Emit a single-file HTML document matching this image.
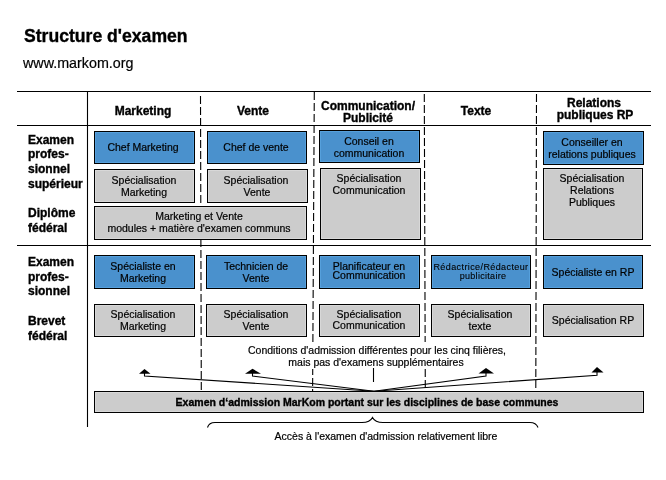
<!DOCTYPE html>
<html><head><meta charset="utf-8">
<style>
html,body{margin:0;padding:0;background:#fff;overflow:hidden;}
body{width:666px;height:480px;position:relative;overflow:hidden;font-family:"Liberation Sans",sans-serif;color:#000;}
.t{position:absolute;white-space:nowrap;will-change:transform;-webkit-text-stroke:0.2px #000;}
.bx{position:absolute;box-sizing:border-box;border:1px solid #000;}
.bl{background:#4a91cd;box-shadow:inset 0 0 0 1px #56a0dc;}
.gr{background:#cccccc;box-shadow:inset 0 0 0 1px #d8d8d8;}
svg{position:absolute;left:0;top:0;}
</style></head><body>
<div class="t" style="top:26px;font-size:17.6px;line-height:20px;font-weight:bold;-webkit-text-stroke:0.35px #000;left:23.5px;">Structure d'examen</div>
<div class="t" style="top:55px;font-size:14.3px;line-height:16px;left:23px;">www.markom.org</div>
<svg width="666" height="480" viewBox="0 0 666 480">
<g stroke="#000" stroke-width="1.1" fill="none">
<line x1="17" y1="91.5" x2="651" y2="91.5"/>
<line x1="17" y1="125.5" x2="651" y2="125.5"/>
<line x1="17" y1="245.5" x2="651" y2="245.5"/>
<line x1="87.5" y1="91" x2="87.5" y2="427"/>
</g>
<g stroke="#000" stroke-width="1.1" fill="none" stroke-dasharray="8 3">
<line x1="200.5" y1="96" x2="201.3" y2="390"/>
<line x1="314.3" y1="92" x2="312.6" y2="391"/>
<line x1="424.3" y1="94" x2="425.3" y2="388"/>
<line x1="536.5" y1="94" x2="535.8" y2="388"/>
</g>
</svg>
<div class="t" style="top:104px;font-size:12px;line-height:14px;font-weight:bold;-webkit-text-stroke:0.35px #000;left:-157.00px;width:600px;text-align:center;">Marketing</div>
<div class="t" style="top:104px;font-size:12px;line-height:14px;font-weight:bold;-webkit-text-stroke:0.35px #000;left:-47.30px;width:600px;text-align:center;">Vente</div>
<div class="t" style="top:104px;font-size:12px;line-height:14px;font-weight:bold;-webkit-text-stroke:0.35px #000;left:176.40px;width:600px;text-align:center;">Texte</div>
<div class="t" style="top:99px;font-size:12px;line-height:14px;font-weight:bold;-webkit-text-stroke:0.35px #000;left:67.50px;width:600px;text-align:center;">Communication/</div>
<div class="t" style="top:111px;font-size:12px;line-height:14px;font-weight:bold;-webkit-text-stroke:0.35px #000;left:68.35px;width:600px;text-align:center;">Publicité</div>
<div class="t" style="top:96px;font-size:12px;line-height:14px;font-weight:bold;-webkit-text-stroke:0.35px #000;left:294.30px;width:600px;text-align:center;">Relations</div>
<div class="t" style="top:108px;font-size:12px;line-height:14px;font-weight:bold;-webkit-text-stroke:0.35px #000;left:295.05px;width:600px;text-align:center;">publiques RP</div>
<div class="t" style="top:133px;font-size:12px;line-height:14px;font-weight:bold;-webkit-text-stroke:0.35px #000;left:28px;">Examen</div>
<div class="t" style="top:147px;font-size:12px;line-height:14px;font-weight:bold;-webkit-text-stroke:0.35px #000;left:28px;">profes-</div>
<div class="t" style="top:162px;font-size:12px;line-height:14px;font-weight:bold;-webkit-text-stroke:0.35px #000;left:28px;">sionnel</div>
<div class="t" style="top:177px;font-size:12px;line-height:14px;font-weight:bold;-webkit-text-stroke:0.35px #000;left:28px;">supérieur</div>
<div class="t" style="top:206px;font-size:12px;line-height:14px;font-weight:bold;-webkit-text-stroke:0.35px #000;left:28px;">Diplôme</div>
<div class="t" style="top:221px;font-size:12px;line-height:14px;font-weight:bold;-webkit-text-stroke:0.35px #000;left:28px;">fédéral</div>
<div class="t" style="top:255px;font-size:12px;line-height:14px;font-weight:bold;-webkit-text-stroke:0.35px #000;left:28px;">Examen</div>
<div class="t" style="top:270px;font-size:12px;line-height:14px;font-weight:bold;-webkit-text-stroke:0.35px #000;left:28px;">profes-</div>
<div class="t" style="top:284px;font-size:12px;line-height:14px;font-weight:bold;-webkit-text-stroke:0.35px #000;left:28px;">sionnel</div>
<div class="t" style="top:314px;font-size:12px;line-height:14px;font-weight:bold;-webkit-text-stroke:0.35px #000;left:28px;">Brevet</div>
<div class="t" style="top:329px;font-size:12px;line-height:14px;font-weight:bold;-webkit-text-stroke:0.35px #000;left:28px;">fédéral</div>
<div class="bx bl" style="left:94px;top:131px;width:101px;height:33px;"></div>
<div class="bx bl" style="left:207px;top:131px;width:100px;height:33px;"></div>
<div class="bx bl" style="left:319px;top:130px;width:101px;height:33px;"></div>
<div class="bx bl" style="left:543px;top:131px;width:101px;height:34px;"></div>
<div class="bx gr" style="left:94px;top:169px;width:101px;height:34px;"></div>
<div class="bx gr" style="left:207px;top:169px;width:101px;height:34px;"></div>
<div class="bx gr" style="left:320px;top:168px;width:101px;height:72px;"></div>
<div class="bx gr" style="left:543px;top:168px;width:100px;height:72px;"></div>
<div class="bx gr" style="left:94px;top:206px;width:213px;height:34px;"></div>
<div class="bx bl" style="left:94px;top:255px;width:101px;height:34px;"></div>
<div class="bx bl" style="left:206px;top:255px;width:101px;height:34px;"></div>
<div class="bx bl" style="left:319px;top:255px;width:101px;height:34px;"></div>
<div class="bx bl" style="left:431px;top:255px;width:100px;height:34px;"></div>
<div class="bx bl" style="left:543px;top:255px;width:100px;height:34px;"></div>
<div class="bx gr" style="left:94px;top:304px;width:101px;height:33px;"></div>
<div class="bx gr" style="left:206px;top:304px;width:101px;height:33px;"></div>
<div class="bx gr" style="left:319px;top:304px;width:101px;height:33px;"></div>
<div class="bx gr" style="left:431px;top:304px;width:100px;height:33px;"></div>
<div class="bx gr" style="left:543px;top:304px;width:101px;height:33px;"></div>
<div class="t" style="top:141px;font-size:10.5px;line-height:12px;left:-156.60px;width:600px;text-align:center;">Chef Marketing</div>
<div class="t" style="top:141px;font-size:10.5px;line-height:12px;left:-43.70px;width:600px;text-align:center;">Chef de vente</div>
<div class="t" style="top:135px;font-size:10.5px;line-height:12px;left:69.35px;width:600px;text-align:center;">Conseil en</div>
<div class="t" style="top:147px;font-size:10.5px;line-height:12px;left:69.00px;width:600px;text-align:center;">communication</div>
<div class="t" style="top:136px;font-size:10.5px;line-height:12px;left:292.35px;width:600px;text-align:center;">Conseiller en</div>
<div class="t" style="top:148px;font-size:10.5px;line-height:12px;left:292.20px;width:600px;text-align:center;">relations publiques</div>
<div class="t" style="top:174px;font-size:10.5px;line-height:12px;left:-156.25px;width:600px;text-align:center;">Spécialisation</div>
<div class="t" style="top:186px;font-size:10.5px;line-height:12px;left:-156.50px;width:600px;text-align:center;">Marketing</div>
<div class="t" style="top:174px;font-size:10.5px;line-height:12px;left:-44.15px;width:600px;text-align:center;">Spécialisation</div>
<div class="t" style="top:186px;font-size:10.5px;line-height:12px;left:-43.20px;width:600px;text-align:center;">Vente</div>
<div class="t" style="top:172px;font-size:10.5px;line-height:12px;left:68.85px;width:600px;text-align:center;">Spécialisation</div>
<div class="t" style="top:184px;font-size:10.5px;line-height:12px;left:69.00px;width:600px;text-align:center;">Communication</div>
<div class="t" style="top:172px;font-size:10.5px;line-height:12px;left:291.85px;width:600px;text-align:center;">Spécialisation</div>
<div class="t" style="top:184px;font-size:10.5px;line-height:12px;left:291.85px;width:600px;text-align:center;">Relations</div>
<div class="t" style="top:196px;font-size:10.5px;line-height:12px;left:291.85px;width:600px;text-align:center;">Publiques</div>
<div class="t" style="top:210px;font-size:10.5px;line-height:12px;left:-100.60px;width:600px;text-align:center;">Marketing et Vente</div>
<div class="t" style="top:222px;font-size:10.5px;line-height:12px;left:-101.30px;width:600px;text-align:center;">modules + matière d'examen communs</div>
<div class="t" style="top:260px;font-size:10.5px;line-height:12px;left:-156.65px;width:600px;text-align:center;">Spécialiste en</div>
<div class="t" style="top:272px;font-size:10.5px;line-height:12px;left:-156.60px;width:600px;text-align:center;">Marketing</div>
<div class="t" style="top:260px;font-size:10.5px;line-height:12px;left:-43.65px;width:600px;text-align:center;">Technicien de</div>
<div class="t" style="top:272px;font-size:10.5px;line-height:12px;left:-43.80px;width:600px;text-align:center;">Vente</div>
<div class="t" style="top:260px;font-size:10.5px;line-height:12px;left:68.80px;width:600px;text-align:center;">Planificateur en</div>
<div class="t" style="top:269px;font-size:10.5px;line-height:12px;left:68.80px;width:600px;text-align:center;">Communication</div>
<div class="t" style="top:266px;font-size:10.5px;line-height:12px;left:292.55px;width:600px;text-align:center;">Spécialiste en RP</div>
<div class="t" style="top:308px;font-size:10.5px;line-height:12px;left:-157.15px;width:600px;text-align:center;">Spécialisation</div>
<div class="t" style="top:320px;font-size:10.5px;line-height:12px;left:-156.60px;width:600px;text-align:center;">Marketing</div>
<div class="t" style="top:308px;font-size:10.5px;line-height:12px;left:-44.25px;width:600px;text-align:center;">Spécialisation</div>
<div class="t" style="top:320px;font-size:10.5px;line-height:12px;left:-43.60px;width:600px;text-align:center;">Vente</div>
<div class="t" style="top:308px;font-size:10.5px;line-height:12px;left:68.75px;width:600px;text-align:center;">Spécialisation</div>
<div class="t" style="top:319px;font-size:10.5px;line-height:12px;left:68.80px;width:600px;text-align:center;">Communication</div>
<div class="t" style="top:308px;font-size:10.5px;line-height:12px;left:179.75px;width:600px;text-align:center;">Spécialisation</div>
<div class="t" style="top:320px;font-size:10.5px;line-height:12px;left:180.15px;width:600px;text-align:center;">texte</div>
<div class="t" style="top:314px;font-size:10.5px;line-height:12px;left:292.60px;width:600px;text-align:center;">Spécialisation RP</div>
<div class="t" style="top:262px;font-size:9px;line-height:10px;letter-spacing:0.4px;left:180.90px;width:600px;text-align:center;-webkit-text-stroke:0.1px #000;">Rédactrice/Rédacteur</div>
<div class="t" style="top:271px;font-size:9px;line-height:10px;letter-spacing:0.3px;left:183.00px;width:600px;text-align:center;-webkit-text-stroke:0.1px #000;">publicitaire</div>
<div style="position:absolute;left:244px;top:342px;width:266px;height:27px;background:#fff;"></div>
<div class="t" style="top:344px;font-size:10.5px;line-height:12px;left:77.05px;width:600px;text-align:center;">Conditions d'admission différentes pour les cinq filières,</div>
<div class="t" style="top:356px;font-size:10.5px;line-height:12px;left:76.45px;width:600px;text-align:center;">mais pas d'examens supplémentaires</div>
<svg width="666" height="480" viewBox="0 0 666 480">
<g stroke="#000" stroke-width="1.1" fill="none">
<polyline points="374,391.2 144.5,376 144.5,373"/>
<polyline points="374,391.2 252.5,376 252.5,373"/>
<polyline points="374,391.2 486,376 486,373"/>
<polyline points="374,391.2 597,375.3 597,372"/>
<line x1="373.5" y1="368" x2="373.5" y2="382"/>
</g>
<g fill="#000">
<polygon points="144.5,369 139,373.8 150.5,373.8"/>
<polygon points="252.5,368.8 245,373.8 261,373.8"/>
<polygon points="486,368 478.5,373.6 494,373.6"/>
<polygon points="597,367 591.5,372.6 603.5,372.6"/>
</g>
</svg>
<div class="bx gr" style="left:94px;top:391px;width:550px;height:22px;"></div>
<div class="t" style="top:396px;font-size:10.5px;line-height:12px;font-weight:bold;-webkit-text-stroke:0.35px #000;left:66.75px;width:600px;text-align:center;">Examen d‘admission MarKom portant sur les disciplines de base communes</div>
<svg width="666" height="480" viewBox="0 0 666 480">
<path d="M207.5,427.5 Q209,422.5 215,422.5 L362,422.5 Q370,422.5 372.5,417.5 Q375,422.5 383,422.5 L530,422.5 Q536,422.5 538,427.5" stroke="#000" stroke-width="1.1" fill="none"/>
</svg>
<div class="t" style="top:430px;font-size:10.5px;line-height:12px;left:85.50px;width:600px;text-align:center;">Accès à l'examen d'admission relativement libre</div>
</body></html>
